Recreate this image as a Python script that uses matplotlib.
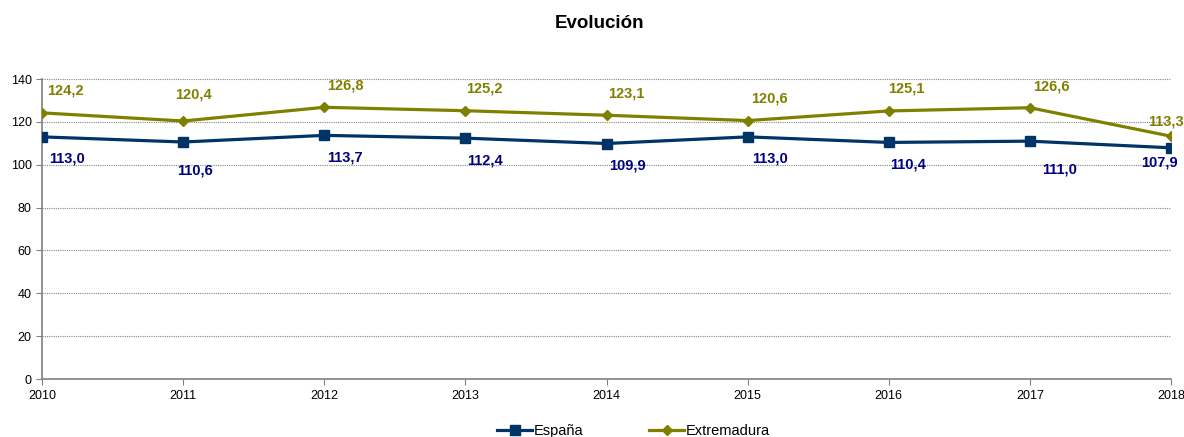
import matplotlib
matplotlib.use("Agg")
import matplotlib.pyplot as plt

plt.rcParams['font.family'] = ['Liberation Sans', 'DejaVu Sans']

# ── datos ──────────────────────────────────────────
years = [2010, 2011, 2012, 2013, 2014, 2015, 2016, 2017, 2018]
espana = [113.0, 110.6, 113.7, 112.4, 109.9, 113.0, 110.4, 111.0, 107.9]
extremadura = [124.2, 120.4, 126.8, 125.2, 123.1, 120.6, 125.1, 126.6, 113.3]

C_ESP = '#003366'
C_ESP_TXT = '#000080'
C_EXT = '#808000'

# desplazamiento de etiquetas (píxeles) como en Excel
dx_ext = [23, 10, 21, 19, 20, 22, 18, 22, -5]
dy_ext = [22, 27, 22, 22, 22, 22, 22, 21, 15]
dx_esp = [25, 12, 21, 20, 21, 22, 19, 30, -12]
dy_esp = [-22, -28, -22, -22, -22, -22, -22, -28, -15]

fig = plt.figure(figsize=(11.84, 4.37), dpi=100)
ax = fig.add_axes([0.0355, 0.1327, 0.9535, 0.6865])

ax.plot(years, espana, color=C_ESP, lw=2.3, marker='s', ms=7, label='España', zorder=3)
ax.plot(years, extremadura, color=C_EXT, lw=2.3, marker='D', ms=5, label='Extremadura', zorder=3)

for x, v, dx, dy in zip(years, extremadura, dx_ext, dy_ext):
    ax.annotate(f"{v:.1f}".replace('.', ','), (x, v), xytext=(dx, dy),
                textcoords='offset pixels', ha='center', va='center',
                color=C_EXT, fontsize=10.5, fontweight='bold', annotation_clip=False)
for x, v, dx, dy in zip(years, espana, dx_esp, dy_esp):
    ax.annotate(f"{v:.1f}".replace('.', ','), (x, v), xytext=(dx, dy),
                textcoords='offset pixels', ha='center', va='center',
                color=C_ESP_TXT, fontsize=10.5, fontweight='bold', annotation_clip=False)

ax.set_xlim(2010, 2018)
ax.set_ylim(0, 140)
ax.set_yticks(range(0, 141, 20))
ax.set_xticks(years)
ax.yaxis.grid(True, linestyle=(0, (1, 1)), color='#888888', lw=0.8)
for s in ['top', 'right']:
    ax.spines[s].set_visible(False)
for s in ['left', 'bottom']:
    ax.spines[s].set_color('#808080')
    ax.spines[s].set_linewidth(1.2)
ax.tick_params(axis='both', colors='#808080', labelcolor='black', labelsize=9, length=4)
ax.tick_params(axis='x', pad=4)

fig.text(0.506, 0.947, "Evolución", ha='center', va='center', fontsize=13.5, fontweight='bold')
fig.legend(loc='lower center', bbox_to_anchor=(0.535, -0.033), ncol=2, frameon=False,
           fontsize=10.5, handlelength=2.4, columnspacing=4.5, handletextpad=0.1)

fig.savefig("out.png", dpi=100)
